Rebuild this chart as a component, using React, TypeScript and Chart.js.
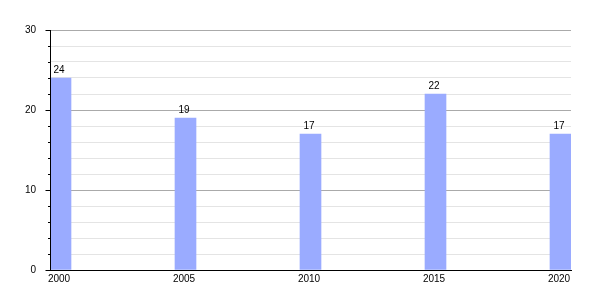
import React, { useEffect, useRef } from 'react';
import { Chart, registerables } from 'chart.js';

Chart.register(...registerables);

const years = [2000, 2005, 2010, 2015, 2020];
const values = [24, 19, 17, 22, 17];
const yTickLabels = [0, 10, 20, 30];
const yMin = 0;
const yMax = 30;
const yMinorStep = 2;

const FONT = "'Liberation Sans', Arial, sans-serif";

export default function App() {
  const ref = useRef<HTMLCanvasElement>(null);

  useEffect(() => {
    if (!ref.current) return;
    const HALF_YEARS = 0.42;

    const axisPlugin = {
      id: 'axisAndLabels',
      afterDatasetsDraw(chart: any) {
        const { ctx, chartArea, scales } = chart;
        const ys = scales.y;
        const left = Math.round(chartArea.left) + 0.5;
        const bottom = Math.round(chartArea.bottom) + 0.5;
        ctx.save();
        ctx.strokeStyle = '#000';
        ctx.lineWidth = 1;
        ctx.beginPath();
        ctx.moveTo(left, Math.round(chartArea.top));
        ctx.lineTo(left, bottom);
        ctx.moveTo(left, bottom);
        ctx.lineTo(Math.round(chartArea.right), bottom);
        for (let v = yMin; v <= yMax; v += yMinorStep) {
          const py = Math.round(ys.getPixelForValue(v)) + 0.5;
          const len = yTickLabels.includes(v) ? 5 : 2.5;
          ctx.moveTo(left - len, py);
          ctx.lineTo(left, py);
        }
        ctx.stroke();

        ctx.fillStyle = '#000';
        ctx.font = `10px ${FONT}`;
        ctx.textAlign = 'center';
        ctx.textBaseline = 'alphabetic';
        const meta = chart.getDatasetMeta(0);
        meta.data.forEach((bar: any, i: number) => {
          ctx.fillText(String(values[i]), bar.x - 1.5, bar.y - 5);
        });
        ctx.restore();
      },
    };

    const chart = new Chart(ref.current, {
      type: 'bar',
      data: {
        datasets: [
          {
            data: years.map((y, i) => ({ x: y, y: values[i] })),
            backgroundColor: '#9aabff',
            borderWidth: 0,
            barThickness: 21,
          },
        ],
      },
      options: {
        responsive: false,
        animation: false,
        layout: { padding: { top: 30, right: 29, left: 0, bottom: 0 } },
        plugins: {
          legend: { display: false },
          tooltip: { enabled: false },
        },
        scales: {
          x: {
            type: 'linear',
            offset: false,
            min: years[0] - HALF_YEARS,
            max: years[years.length - 1] + HALF_YEARS,
            afterBuildTicks: (s: any) => {
              s.ticks = years.map((v) => ({ value: v }));
            },
            afterFit: (s: any) => {
              s.height = 30;
            },
            ticks: {
              autoSkip: false,
              maxRotation: 0,
              padding: 3,
              labelOffset: -1.5,
              color: '#000',
              font: { size: 10, family: FONT },
              callback: (v: any) => String(v),
            },
            grid: { display: false, drawTicks: false, offset: false },
            border: { display: true, color: '#000' },
          },
          y: {
            min: yMin,
            max: yMax,
            afterFit: (s: any) => {
              s.width = 50;
            },
            ticks: {
              stepSize: yMinorStep,
              padding: 14,
              color: '#000',
              font: { size: 10, family: FONT },
              callback: (v: any) => (yTickLabels.includes(Number(v)) ? String(v) : ''),
            },
            grid: {
              drawTicks: false,
              color: (c: any) => (yTickLabels.includes(c.tick?.value) ? '#aaaaaa' : '#e4e4e4'),
            },
            border: { display: true, color: '#000' },
          },
        },
      },
      plugins: [axisPlugin],
    } as any);

    return () => chart.destroy();
  }, []);

  return (
    <div style={{ position: 'fixed', left: 0, top: 0, width: 600, height: 300, background: '#fff' }}>
      <canvas ref={ref} width={600} height={300} />
    </div>
  );
}
